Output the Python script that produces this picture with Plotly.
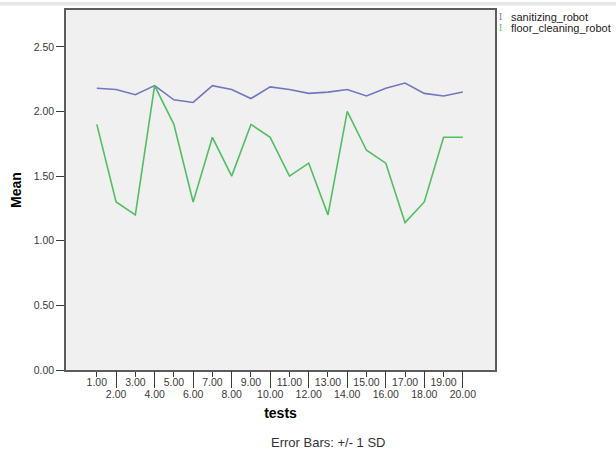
import plotly.graph_objects as go

tests = list(range(1, 21))
tick_labels = [f"{t:.2f}" for t in tests]
series_names = ["sanitizing_robot", "floor_cleaning_robot"]
sanitizing_robot = [2.18, 2.17, 2.13, 2.20, 2.09, 2.07, 2.20, 2.17, 2.10, 2.19,
                    2.17, 2.14, 2.15, 2.17, 2.12, 2.18, 2.22, 2.14, 2.12, 2.15]
floor_cleaning_robot = [1.90, 1.30, 1.20, 2.20, 1.90, 1.30, 1.80, 1.50, 1.90, 1.80,
                        1.50, 1.60, 1.20, 2.00, 1.70, 1.60, 1.14, 1.30, 1.80, 1.80]
y_ticks = [0, 0.5, 1.0, 1.5, 2.0, 2.5]

colors = ["#7276bf", "#52be63"]
font = "Liberation Sans, Arial, sans-serif"
tick_col = "#3a3a3a"
frame_col = "#5c5c5c"

fig = go.Figure()
for name, vals, col in zip(series_names, [sanitizing_robot, floor_cleaning_robot], colors):
    fig.add_trace(go.Scatter(x=tests, y=vals, mode="lines", name=name,
                             line=dict(color=col, width=1.6), showlegend=False))

# invisible trace for the second (even-tick) x axis
fig.add_trace(go.Scatter(x=[tests[0]], y=[None], xaxis="x2", mode="lines",
                         showlegend=False, hoverinfo="skip"))

xrange = [-0.6, 21.67]
odd = [t for t in tests if t % 2 == 1]
even = [t for t in tests if t % 2 == 0]

fig.update_layout(
    width=616, height=452,
    margin=dict(l=66, r=121, t=8, b=82),
    paper_bgcolor="white",
    plot_bgcolor="#f0f0f0",
    font=dict(family=font, size=10.5, color=tick_col),
    xaxis=dict(range=xrange, tickmode="array", tickvals=odd,
               ticktext=[tick_labels[t - 1] for t in odd],
               ticks="outside", ticklen=5, tickwidth=1.2, tickcolor=tick_col,
               ticklabelstandoff=-3,
               showline=True, linecolor=frame_col, linewidth=1.5, mirror=True,
               showgrid=False, zeroline=False,
               tickfont=dict(family=font, size=10.5, color=tick_col)),
    xaxis2=dict(range=xrange, overlaying="x", anchor="y", side="bottom",
                tickmode="array", tickvals=even,
                ticktext=[tick_labels[t - 1] for t in even],
                ticks="outside", ticklen=17, tickwidth=1.2, tickcolor=tick_col,
                ticklabelstandoff=-3,
                showline=False, showgrid=False, zeroline=False,
                tickfont=dict(family=font, size=10.5, color=tick_col),
                title=dict(text="<b>tests</b>", standoff=9,
                           font=dict(family=font, size=14, color="black"))),
    yaxis=dict(range=[0, 2.785], tickmode="array", tickvals=y_ticks,
               ticktext=[f"{v:.2f}" for v in y_ticks],
               ticks="outside", ticklen=8, tickwidth=1.2, tickcolor=tick_col,
               showline=True, linecolor=frame_col, linewidth=1.5, mirror=True,
               showgrid=False, zeroline=False,
               tickfont=dict(family=font, size=10.5, color=tick_col),
               title=dict(text="<b>Mean</b>", standoff=9,
                          font=dict(family=font, size=14, color="black"))),
)

# light gray band at the very top of the page
fig.add_shape(type="rect", xref="paper", yref="paper",
              x0=-66 / 429, x1=550 / 429, y0=1 + 4.5 / 362, y1=1 + 8 / 362,
              fillcolor="#e6e6e6", line=dict(width=0), layer="below")

# legend (SPSS style, error-bar glyph + name)
leg_y = [1 - 7.3 / 362, 1 - 18 / 362]
for name, col, yy in zip(series_names, colors, leg_y):
    fig.add_annotation(x=(500 - 66) / 429, y=yy, xref="paper", yref="paper", text="I",
                       showarrow=False, xanchor="center", yanchor="middle",
                       font=dict(family="Liberation Serif, serif", size=9.5, color=col))
    fig.add_annotation(x=(509 - 66) / 429, y=yy, xref="paper", yref="paper", text=name,
                       showarrow=False, xanchor="left", yanchor="middle",
                       font=dict(family=font, size=11, color="#222222"))

fig.add_annotation(x=(328 - 66) / 429, y=-(443 - 370) / 362, xref="paper", yref="paper",
                   text="Error Bars: +/- 1 SD", showarrow=False,
                   xanchor="center", yanchor="middle",
                   font=dict(family=font, size=13, color="#333333"))

fig.write_html("out.html", config={"displayModeBar": False},
               post_script="document.body.style.margin='0px';document.body.style.overflow='hidden';")
